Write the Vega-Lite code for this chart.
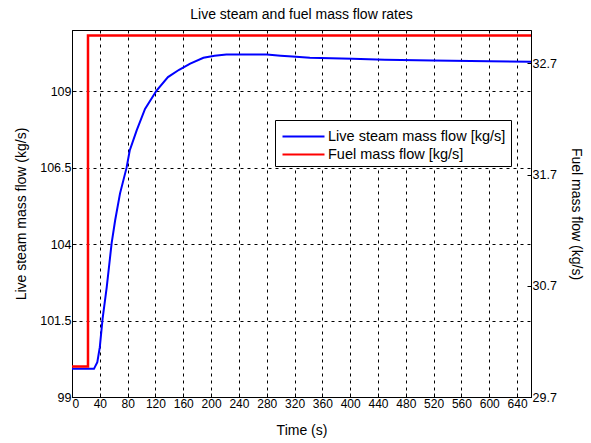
{
  "$schema": "https://vega.github.io/schema/vega-lite/v6.json",
  "autosize": "none",
  "width": 459,
  "height": 367,
  "padding": {"left": 72, "top": 30, "right": 60, "bottom": 46},
  "background": "white",
  "title": {"text": "Live steam and fuel mass flow rates", "fontSize": 14, "fontWeight": "normal", "font": "Liberation Sans", "color": "#000", "offset": 8},
  "config": {
    "view": {"stroke": "#000", "strokeWidth": 1},
    "axis": {"labelFont": "Liberation Sans", "titleFont": "Liberation Sans", "labelFontSize": 12.5, "titleFontSize": 14, "titleFontWeight": "normal", "labelColor": "#000", "titleColor": "#000", "domainColor": "#000", "tickColor": "#000", "gridColor": "#000", "gridDash": [3, 4], "gridOpacity": 1, "gridWidth": 1, "tickSize": -4, "labelPadding": 5, "labelOverlap": false},
    "legend": {"labelFont": "Liberation Sans", "labelFontSize": 14.5, "labelColor": "#000"}
  },
  "datasets": {
    "steam": [
      {"t": 0, "v": 99.92, "series": "Live steam mass flow [kg/s]"},
      {"t": 31.6, "v": 99.92, "series": "Live steam mass flow [kg/s]"},
      {"t": 36.4, "v": 100.14, "series": "Live steam mass flow [kg/s]"},
      {"t": 40, "v": 100.63, "series": "Live steam mass flow [kg/s]"},
      {"t": 44, "v": 101.56, "series": "Live steam mass flow [kg/s]"},
      {"t": 50, "v": 102.6, "series": "Live steam mass flow [kg/s]"},
      {"t": 57, "v": 104.03, "series": "Live steam mass flow [kg/s]"},
      {"t": 62, "v": 104.77, "series": "Live steam mass flow [kg/s]"},
      {"t": 69, "v": 105.65, "series": "Live steam mass flow [kg/s]"},
      {"t": 78.5, "v": 106.5, "series": "Live steam mass flow [kg/s]"},
      {"t": 83, "v": 107.06, "series": "Live steam mass flow [kg/s]"},
      {"t": 93, "v": 107.72, "series": "Live steam mass flow [kg/s]"},
      {"t": 105, "v": 108.42, "series": "Live steam mass flow [kg/s]"},
      {"t": 121.6, "v": 109.02, "series": "Live steam mass flow [kg/s]"},
      {"t": 138, "v": 109.46, "series": "Live steam mass flow [kg/s]"},
      {"t": 154, "v": 109.7, "series": "Live steam mass flow [kg/s]"},
      {"t": 170, "v": 109.9, "series": "Live steam mass flow [kg/s]"},
      {"t": 189, "v": 110.09, "series": "Live steam mass flow [kg/s]"},
      {"t": 205, "v": 110.16, "series": "Live steam mass flow [kg/s]"},
      {"t": 222, "v": 110.2, "series": "Live steam mass flow [kg/s]"},
      {"t": 280, "v": 110.2, "series": "Live steam mass flow [kg/s]"},
      {"t": 300, "v": 110.16, "series": "Live steam mass flow [kg/s]"},
      {"t": 317, "v": 110.13, "series": "Live steam mass flow [kg/s]"},
      {"t": 342, "v": 110.09, "series": "Live steam mass flow [kg/s]"},
      {"t": 403, "v": 110.06, "series": "Live steam mass flow [kg/s]"},
      {"t": 450, "v": 110.03, "series": "Live steam mass flow [kg/s]"},
      {"t": 519, "v": 110.0, "series": "Live steam mass flow [kg/s]"},
      {"t": 600, "v": 109.98, "series": "Live steam mass flow [kg/s]"},
      {"t": 660, "v": 109.96, "series": "Live steam mass flow [kg/s]"}
    ],
    "fuel": [
      {"t": 0, "v": 29.975, "series": "Fuel mass flow [kg/s]"},
      {"t": 23, "v": 32.95, "series": "Fuel mass flow [kg/s]"},
      {"t": 660, "v": 32.95, "series": "Fuel mass flow [kg/s]"}
    ]
  },
  "layer": [
    {
      "data": {"name": "steam"},
      "mark": {"type": "line", "strokeWidth": 2, "clip": true},
      "encoding": {
        "x": {"field": "t", "type": "quantitative", "scale": {"domain": [0, 660], "nice": false, "zero": false},
              "axis": {"title": "Time (s)", "values": [0,40,80,120,160,200,240,280,320,360,400,440,480,520,560,600,640], "tickCount": 30, "grid": true, "titlePadding": 14, "labelOverlap": false, "labelFontSize": 12}},
        "y": {"field": "v", "type": "quantitative", "scale": {"domain": [99, 111], "nice": false, "zero": false},
              "axis": {"title": "Live steam mass flow (kg/s)", "orient": "left", "values": [99, 101.5, 104, 106.5, 109], "format": ".1~f", "grid": true, "titlePadding": 11, "labelOverlap": false}},
        "color": {"field": "series", "type": "nominal",
                  "scale": {"domain": ["Live steam mass flow [kg/s]", "Fuel mass flow [kg/s]"], "range": ["#0000ff", "#ff0000"]},
                  "legend": {"title": null, "orient": "none", "legendX": 203, "legendY": 90, "fillColor": "white", "strokeColor": "#000", "padding": 5, "symbolType": "M-2,0H2", "symbolSize": 441, "symbolStrokeWidth": 2, "symbolOffset": 12, "rowPadding": -1, "labelOffset": 13, "labelLimit": 300}}
      }
    },
    {
      "data": {"name": "fuel"},
      "mark": {"type": "line", "strokeWidth": 2.5, "interpolate": "step-after", "clip": true},
      "encoding": {
        "x": {"field": "t", "type": "quantitative"},
        "y": {"field": "v", "type": "quantitative", "scale": {"domain": [29.7, 33.0], "nice": false, "zero": false},
              "axis": {"title": "Fuel mass flow (kg/s)", "orient": "right", "values": [29.7, 30.7, 31.7, 32.7], "grid": false, "format": ".1f", "titlePadding": 12, "labelOverlap": false}},
        "color": {"field": "series", "type": "nominal"}
      }
    }
  ],
  "resolve": {"scale": {"y": "independent"}}
}
